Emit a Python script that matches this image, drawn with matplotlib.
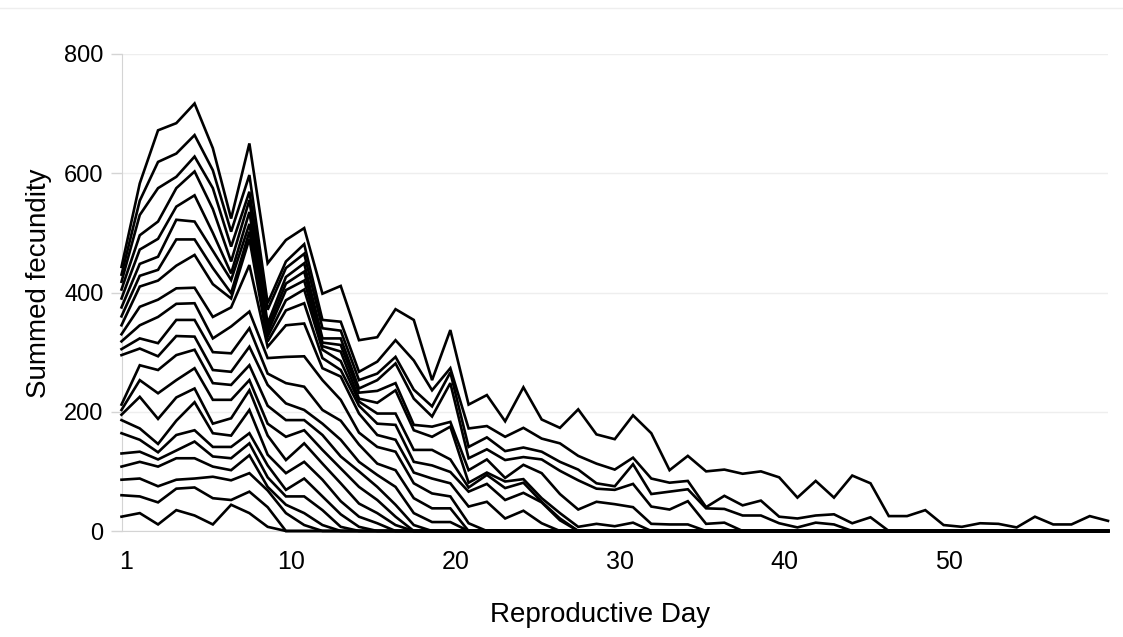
import numpy as np
import matplotlib.pyplot as plt
from matplotlib.transforms import ScaledTranslation

plt.rcParams['font.family'] = ['Liberation Sans', 'DejaVu Sans']

# summed fecundity per reproductive day, one list per cumulative curve (bottom to top)
fec_01 = [24, 30, 11, 35, 26, 11, 44, 30, 7, 0]
fec_02 = [60, 58, 48, 71, 73, 55, 52, 66, 40, 0]
fec_03 = [86, 88, 75, 86, 88, 91, 85, 97, 68, 30, 10, 0]
fec_04 = [108, 116, 108, 122, 122, 108, 102, 127, 74, 44, 30, 10, 0]
fec_05 = [130, 133, 120, 135, 150, 125, 122, 147, 90, 58, 58, 35, 7, 0]
fec_06 = [164, 153, 132, 161, 169, 141, 141, 164, 110, 69, 88, 58, 28, 7, 0]
fec_07 = [186, 172, 146, 185, 216, 164, 160, 203, 128, 97, 116, 86, 50, 24, 13, 0]
fec_08 = [195, 225, 188, 224, 239, 180, 189, 236, 160, 119, 147, 113, 80, 46, 30,
          10, 0]
fec_09 = [203, 253, 231, 253, 273, 220, 220, 253, 180, 158, 169, 136, 105, 74, 52,
          24, 0]
fec_10 = [212, 278, 270, 295, 304, 248, 245, 278, 210, 186, 186, 161, 125, 100, 74,
          44, 10, 0]
fec_11 = [295, 306, 293, 327, 326, 270, 267, 309, 245, 214, 203, 180, 153, 116, 94,
          74, 30, 15, 15, 0]
fec_12 = [305, 323, 315, 354, 354, 300, 298, 340, 264, 248, 242, 203, 185, 145, 113,
          102, 55, 38, 38, 0]
fec_13 = [318, 345, 359, 381, 382, 323, 343, 368, 290, 292, 293, 253, 220, 165, 141,
          133, 80, 63, 58, 13, 0]
fec_14 = [330, 376, 388, 407, 408, 359, 375, 446, 309, 345, 348, 273, 259, 197, 161,
          153, 98, 88, 80, 41, 49, 21, 34, 13, 0]
fec_15 = [345, 410, 420, 445, 463, 414, 390, 490, 318, 370, 382, 290, 270, 210, 180,
          178, 116, 110, 99, 66, 79, 52, 64, 48, 18, 0]
fec_16 = [360, 428, 438, 489, 489, 441, 399, 502, 326, 387, 405, 304, 285, 217, 197,
          197, 136, 136, 120, 73, 94, 72, 81, 49, 21, 0]
fec_17 = [375, 448, 460, 522, 519, 470, 421, 515, 333, 404, 420, 310, 301, 222, 215,
          236, 169, 158, 175, 81, 98, 83, 87, 55, 30, 7, 12, 8, 14, 0]
fec_18 = [390, 472, 490, 544, 563, 500, 432, 535, 340, 415, 435, 316, 312, 232, 235,
          248, 178, 175, 183, 102, 120, 89, 111, 97, 62, 36, 49, 45, 40, 12,
          11, 11, 0]
fec_19 = [405, 496, 519, 575, 603, 540, 452, 555, 348, 426, 449, 323, 323, 239, 253,
          281, 222, 192, 248, 122, 137, 119, 124, 120, 101, 85, 71, 69, 79, 41,
          36, 50, 12, 14, 0]
fec_20 = [418, 530, 575, 594, 628, 575, 477, 569, 371, 441, 465, 340, 336, 253, 264,
          292, 237, 209, 266, 141, 157, 134, 140, 133, 116, 103, 80, 75, 112, 62,
          66, 70, 38, 37, 26, 26, 13, 6, 14, 11, 0]
fec_21 = [430, 554, 619, 633, 664, 605, 502, 597, 382, 452, 481, 354, 351, 267, 284,
          320, 286, 236, 273, 172, 176, 158, 173, 155, 147, 126, 113, 103, 123, 88,
          81, 84, 40, 59, 43, 51, 24, 21, 26, 28, 13, 23, 0]
fec_22 = [443, 583, 672, 684, 717, 642, 524, 650, 449, 488, 508, 398, 411, 320, 325,
          372, 354, 253, 337, 212, 228, 184, 241, 187, 173, 204, 162, 154, 194, 164,
          102, 126, 100, 103, 96, 100, 90, 56, 84, 56, 93, 80, 25, 25, 35,
          10, 7, 13, 12, 6, 24, 11, 11, 25, 17]

curves = [fec_01, fec_02, fec_03, fec_04, fec_05, fec_06, fec_07, fec_08, fec_09, fec_10,
          fec_11, fec_12, fec_13, fec_14, fec_15, fec_16, fec_17, fec_18, fec_19, fec_20,
          fec_21, fec_22]

n_days = len(fec_22)
tick_pos = [0, 9, 18, 27, 36, 45]
tick_lab = ['1', '10', '20', '30', '40', '50']

fig = plt.figure(figsize=(11.23, 6.37), dpi=100)
ax = fig.add_axes([121.5 / 1123, 106 / 637, 986.5 / 1123, 477 / 637])

x = np.arange(n_days)
for c in curves:
    # curves stay on zero once the cohort stops laying
    y = np.zeros(n_days)
    y[:len(c)] = c
    ax.plot(x, y, color='black', lw=1.9, solid_joinstyle='miter', clip_on=False, zorder=3)

ax.set_xlim(0, n_days - 1)
ax.set_ylim(0, 800)
ax.set_yticks([0, 200, 400, 600, 800])
ax.set_xticks(tick_pos)
ax.set_xticklabels(tick_lab)
ax.yaxis.grid(True, color='#eeeeee', lw=1)
ax.set_axisbelow(True)

for side in ['top', 'right']:
    ax.spines[side].set_visible(False)
ax.spines['left'].set_color('#d4d4d4')
ax.spines['bottom'].set_color('#d4d4d4')
ax.tick_params(axis='y', length=8, width=1, color='#d4d4d4', labelsize=17, pad=5)
ax.tick_params(axis='x', length=0, labelsize=18, pad=14)

# day labels sit a little right of their points
shift = ScaledTranslation(5 / 100, 0, fig.dpi_scale_trans)
for lab in ax.get_xticklabels():
    lab.set_transform(lab.get_transform() + shift)

ax.set_xlabel('Reproductive Day', fontsize=20, labelpad=18)
ax.set_ylabel('Summed fecundity', fontsize=20, labelpad=8)
ax.xaxis.set_label_coords(0.485, -0.148)
ax.yaxis.set_label_coords(-0.07, 0.519)

# thin rule across the top of the figure
fig.add_artist(plt.Line2D([0, 1], [0.987, 0.987], color='#eeeeee', lw=1))

fig.savefig('out.png', dpi=100)
